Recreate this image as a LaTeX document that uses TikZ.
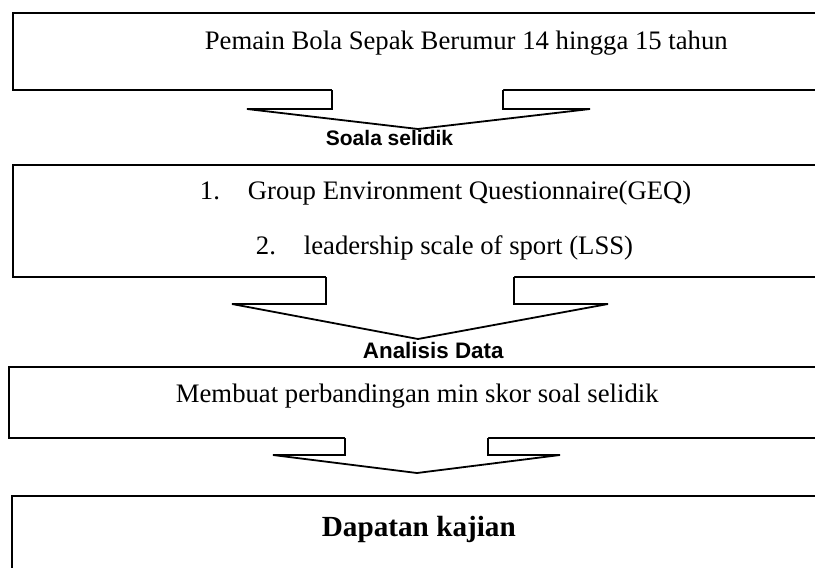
\documentclass[tikz,border=0pt]{standalone}
\usepackage{fontspec}
\setmainfont{Liberation Serif}
\newfontfamily\labelfont{Liberation Sans}
\begin{document}
\begin{tikzpicture}[x=1pt,y=-1pt,line width=1.8pt,
  box/.style={draw,anchor=north west,inner sep=0pt,outer sep=0pt,minimum width=820pt},
  txt/.style={anchor=base west,inner sep=0pt,font=\fontsize{26.7}{30}\selectfont},
  boldtxt/.style={anchor=base west,inner sep=0pt,font=\bfseries\fontsize{29.2}{32}\selectfont},
  lbl/.style={anchor=base west,inner sep=0pt,font=\labelfont\bfseries\fontsize{#1}{24}\selectfont},
  blockarrow/.style={line join=miter}]
\useasboundingbox (0,0) rectangle (815,568);
\clip (0,0) rectangle (815,568);
% boxes
\node[box,minimum height=77pt] (b1) at (13,13) {};
\node[box,minimum height=112pt] (b2) at (13,165) {};
\node[box,minimum height=71pt] (b3) at (9,367) {};
\node[box,minimum height=110pt] (b4) at (12,496) {};
% block arrows
\fill[white] (332,87) -- (332,109) -- (247,109) -- (418,129) -- (590,109) -- (503,109) -- (503,87) -- cycle;
\draw[blockarrow] (332,90) -- (332,109) -- (247,109) -- (418,129) -- (590,109) -- (503,109) -- (503,90);
\fill[white] (326,274) -- (326,304) -- (232,304) -- (418,339) -- (608,304) -- (514,304) -- (514,274) -- cycle;
\draw[blockarrow] (326,277) -- (326,304) -- (232,304) -- (418,339) -- (608,304) -- (514,304) -- (514,277);
\fill[white] (345,435) -- (345,455) -- (273,455) -- (417,473) -- (560,455) -- (488,455) -- (488,435) -- cycle;
\draw[blockarrow] (345,438) -- (345,455) -- (273,455) -- (417,473) -- (560,455) -- (488,455) -- (488,438);
% texts
\node[txt] (t1) at (204,49) {Pemain Bola Sepak Berumur 14 hingga 15 tahun};
\node[txt] (t2a) at (199,199) {\makebox[48pt][l]{1.}Group Environment Questionnaire(GEQ)};
\node[txt] (t2b) at (255,254) {\makebox[48pt][l]{2.}leadership scale of sport (LSS)};
\node[txt] (t3) at (175,402) {Membuat perbandingan min skor soal selidik};
\node[boldtxt] (t4) at (321,536) {Dapatan kajian};
\node[lbl=21] (l1) at (325,145) {Soala selidik};
\node[lbl=22.4] (l2) at (362,358) {Analisis Data};
\end{tikzpicture}
\end{document}
